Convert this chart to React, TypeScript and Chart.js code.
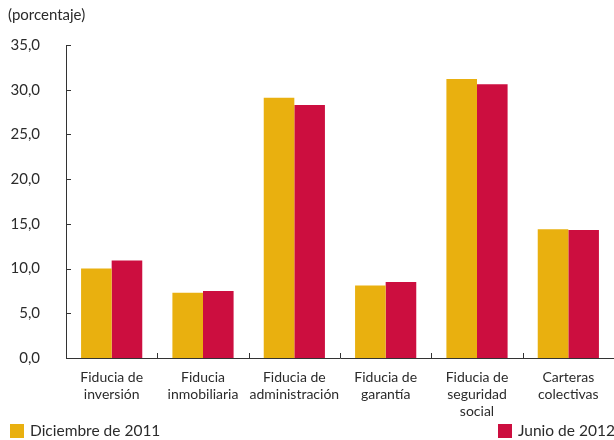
import React, { useEffect, useRef } from "react";
import { Chart, registerables } from "chart.js";

Chart.register(...registerables);

const categories: string[][] = [
  ["Fiducia de", "inversión"],
  ["Fiducia", "inmobiliaria"],
  ["Fiducia de", "administración"],
  ["Fiducia de", "garantía"],
  ["Fiducia de", "seguridad", "social"],
  ["Carteras", "colectivas"],
];
const seriesNames = ["Diciembre de 2011", "Junio de 2012"];
const dic2011 = [10.0, 7.3, 29.1, 8.1, 31.2, 14.4];
const jun2012 = [10.9, 7.5, 28.3, 8.5, 30.6, 14.3];
const yTicks = [0, 5, 10, 15, 20, 25, 30, 35];
const unitLabel = "(porcentaje)";

const YELLOW = "#E9B00F";
const RED = "#CC0E3F";
const AXIS = "#333333";
const TEXT = "#2b2b2b";
const FONT = "Lato, 'Noto Sans', sans-serif";

const decor = {
  id: "decor",
  afterDraw(chart: any) {
    const ctx = chart.ctx;
    const a = chart.chartArea;
    const y = chart.scales.y;
    const x = chart.scales.x;
    ctx.save();
    ctx.strokeStyle = AXIS;
    ctx.lineWidth = 1;
    yTicks.forEach((v) => {
      const py = Math.round(y.getPixelForValue(v)) + 0.5;
      ctx.beginPath();
      ctx.moveTo(a.left, py);
      ctx.lineTo(a.left + 5, py);
      ctx.stroke();
    });
    const n = categories.length;
    for (let i = 1; i < n; i++) {
      const px = Math.round((x.getPixelForValue(i - 1) + x.getPixelForValue(i)) / 2) + 0.5;
      ctx.beginPath();
      ctx.moveTo(px, a.bottom);
      ctx.lineTo(px, a.bottom - 5);
      ctx.stroke();
    }
    ctx.fillStyle = TEXT;
    ctx.font = `15px ${FONT}`;
    ctx.textBaseline = "middle";
    ctx.textAlign = "left";
    ctx.fillText(unitLabel, 8, 15);
    ctx.font = `15.5px ${FONT}`;
    ctx.fillStyle = YELLOW;
    ctx.fillRect(10, 424, 14, 14);
    ctx.fillStyle = TEXT;
    ctx.fillText(seriesNames[0], 30, 431);
    ctx.fillStyle = RED;
    ctx.fillRect(498, 424, 14, 14);
    ctx.fillStyle = TEXT;
    ctx.fillText(seriesNames[1], 518, 431);
    ctx.restore();
  },
};

export default function App() {
  const ref = useRef<HTMLCanvasElement | null>(null);
  useEffect(() => {
    document.body.style.margin = "0";
    const chart = new Chart(ref.current as HTMLCanvasElement, {
      type: "bar",
      data: {
        labels: categories as any,
        datasets: [
          { label: seriesNames[0], data: dic2011, backgroundColor: YELLOW, barPercentage: 1, categoryPercentage: 0.67 },
          { label: seriesNames[1], data: jun2012, backgroundColor: RED, barPercentage: 1, categoryPercentage: 0.67 },
        ],
      },
      options: {
        animation: false,
        responsive: false,
        layout: { padding: { top: 45, right: 0, left: 0, bottom: 0 } },
        plugins: { legend: { display: false }, tooltip: { enabled: false }, title: { display: false } },
        scales: {
          x: {
            grid: { display: false, drawTicks: false },
            border: { display: true, color: AXIS, width: 1 },
            ticks: { color: TEXT, font: { family: FONT, size: 14, lineHeight: 1.22 }, padding: 11, maxRotation: 0, autoSkip: false },
            afterFit(s: any) { s.height = 82; },
          },
          y: {
            min: 0,
            max: 35,
            grid: { display: false, drawTicks: false },
            border: { display: true, color: AXIS, width: 1 },
            ticks: {
              stepSize: 5,
              color: TEXT,
              font: { family: FONT, size: 15 },
              padding: 26,
              callback: (v: any) => Number(v).toFixed(1).replace(".", ","),
            },
            afterFit(s: any) { s.width = 66; },
          },
        },
      },
      plugins: [decor],
    });
    return () => chart.destroy();
  }, []);
  return <canvas ref={ref} width={614} height={440} style={{ display: "block" }} />;
}
